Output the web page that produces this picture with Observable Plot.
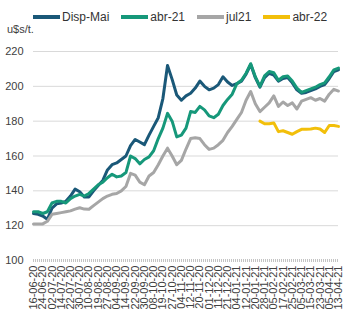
<!DOCTYPE html>
<html><head><meta charset="utf-8">
<script src="https://cdn.jsdelivr.net/npm/d3@7"></script>
<script src="https://cdn.jsdelivr.net/npm/@observablehq/plot@0.6"></script>
<style>
body{margin:0;background:#fff;font-family:"Liberation Sans",Arial,sans-serif;color:#404040;}
#wrap{position:relative;width:356px;height:324px;overflow:hidden;}
#legend{position:absolute;left:33px;top:10px;height:14px;display:flex;align-items:center;font-size:12px;color:#333;white-space:nowrap;}
.item{display:flex;align-items:center;margin-right:12px;}
.sw{width:27px;height:3.5px;margin-right:2px;}
#ylab{position:absolute;left:7px;top:23px;font-size:11px;color:#404040;}
#chart{position:absolute;left:0;top:24px;}
</style></head>
<body><div id="wrap"><div id="legend"></div><div id="ylab">u$s/t.</div><div id="chart"></div></div>
<script>
const tickLabels = ["16-06-20","24-06-20","02-07-20","14-07-20","22-07-20","30-07-20","10-08-20","19-08-20","27-08-20","04-09-20","14-09-20","22-09-20","30-09-20","08-10-20","19-10-20","27-10-20","04-11-20","12-11-20","20-11-20","01-12-20","11-12-20","21-12-20","04-01-21","12-01-21","20-01-21","28-01-21","05-02-21","17-02-21","25-02-21","05-03-21","15-03-21","23-03-21","05-04-21","13-04-21"];
const yTicks = [100,120,140,160,180,200,220];
const seriesNames = ["Disp-Mai","abr-21","jul21","abr-22"];
const seriesColors = ["#1a5878","#16987a","#a6a6a6","#f2bf0a"];
// values sampled every half tick interval (index step 0.5)
const dispMai = [127,126.5,125.5,123.7,130,132.5,133,134,137,141,139.5,136.5,136.5,140,143,146,152,155,156,158,160,166,169.5,168,166.5,172,177,182,193,212,204,195,192,194.5,196,199,203,200,198,199,201,205.5,202.5,200.5,201.5,203,207,212.5,205,199.5,205,207.5,206.5,203,204.5,205,202,198,196,196.5,197.5,198.5,200,201,204.5,208.5,209.5];
const abr21 = [128,128,127,128,133,134,134,133,135.5,137,138,137,138.5,141,143.5,145,147.5,149.5,148,148.5,150.5,160,158.5,155.5,158,159.5,163,170,176,184.5,180,171,172,176,185.5,185,188.5,186.5,183,182,184,189,192.5,195.5,201.5,203.5,207.5,213,205.5,200,206,208.5,207.8,203.5,205.5,206,203,199,196.5,197.5,198.5,199.5,201,202,205.5,209.5,210.5];
const jul21 = [121,121,121,122.5,126.5,127,127.5,128,128.5,129.5,130.3,129.5,129.4,131.5,133.5,135.5,137,138,138.5,140,142.5,150,149,145,143.5,148.5,150.5,155,160,164.5,160,155,157.5,164,170,170.5,170,166.5,163.8,164.5,166.5,169,173.5,177,181,185,192,197,190,185.5,188,190.5,194.5,188.5,191,189,190.5,187,191.5,192.5,193.5,192,193,191.5,195.5,198.3,197.3];
const abr22Start = 24.5;
const abr22 = [180,178.5,178.5,179,174,174.5,173.5,172.5,174,175.3,175.3,175.5,176,175.5,173.5,177.5,177.5,177];

const toRows = (arr, start) => arr.map((v, k) => ({x: start + k * 0.5, y: v}));
const rows = [toRows(dispMai, 0), toRows(abr21, 0), toRows(jul21, 0), toRows(abr22, abr22Start)];

// legend
const leg = document.getElementById("legend");
seriesNames.forEach((n, i) => {
  const it = document.createElement("div"); it.className = "item";
  const sw = document.createElement("div"); sw.className = "sw"; sw.style.background = seriesColors[i];
  const tx = document.createElement("span"); tx.textContent = n;
  it.appendChild(sw); it.appendChild(tx); leg.appendChild(it);
});

const plot = Plot.plot({
  width: 356, height: 300,
  marginTop: 27, marginBottom: 64, marginLeft: 33, marginRight: 18,
  style: {fontFamily: "Liberation Sans, Arial, sans-serif", fontSize: "11px", color: "#404040", background: "transparent"},
  x: {domain: [0, 33]},
  y: {domain: [100, 220]},
  marks: [
    Plot.ruleY(yTicks.filter(v => v > 100), {stroke: "#d9d9d9", strokeWidth: 1}),
    Plot.ruleY([100], {stroke: "#c4c4c4", strokeWidth: 3, strokeDasharray: "1,1"}),
    Plot.axisY(yTicks, {tickSize: 0, tickPadding: 10, label: null, fill: "#404040"}),
    Plot.axisX(d3.range(tickLabels.length), {tickFormat: i => tickLabels[i], tickRotate: -90, tickSize: 0, tickPadding: 5, label: null, fill: "#404040"}),
    ...rows.map((r, i) => Plot.line(r, {x: "x", y: "y", stroke: seriesColors[i], strokeWidth: 3, strokeLinejoin: "round"}))
  ]
});
document.getElementById("chart").appendChild(plot);
</script></body></html>
